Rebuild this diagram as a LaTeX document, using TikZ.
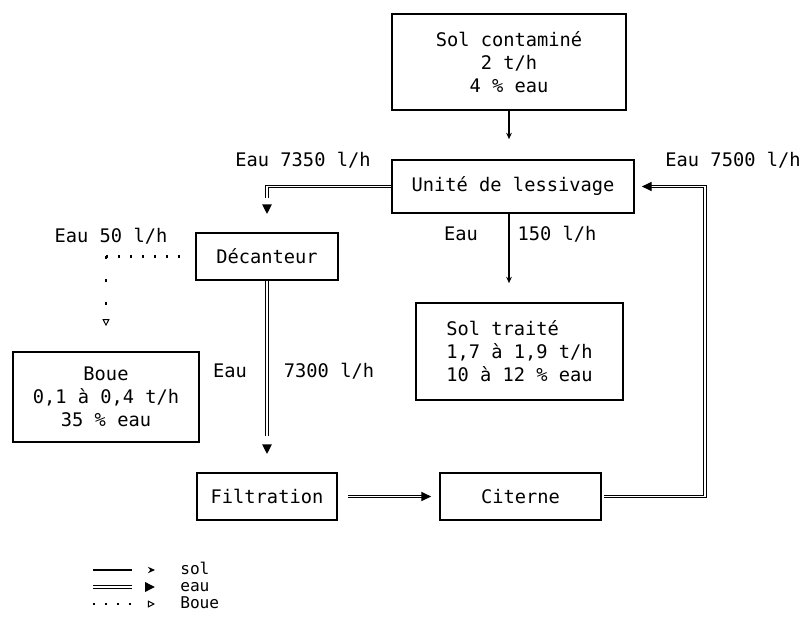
\documentclass[tikz,border=0pt]{standalone}
\usepackage{fontspec}
\setmainfont{DejaVu Sans Mono}
\usetikzlibrary{arrows.meta,decorations.markings}
\begin{document}
\begin{tikzpicture}[x=0.25mm,y=-0.25mm,
  font=\fontsize{13.3}{16.3}\selectfont,
  box/.style={draw,line width=1.2pt,align=center,inner sep=0pt},
  lbl/.style={inner sep=0pt},
  key/.style={inner sep=0pt,anchor=west,font=\fontsize{11.5}{12}\selectfont,text height=1.4ex,text depth=0.2ex},
  tipmark/.style 2 args={decoration={markings,mark=at position #1 with {\arrow{#2}}},postaction=decorate},
  sol/.style={line width=0.8pt,-{Stealth[length=4.5pt,width=4pt]}},
  solgap/.style={sol,-,shorten >=#1,tipmark={1}{Stealth[length=5pt,width=4.5pt]}},
  eau/.style={double,double distance=0.75pt,line width=0.9pt,-{Triangle[length=7pt,width=6.5pt]}},
  eaugap/.style 2 args={eau,-,shorten >=#1,tipmark={#2}{Triangle[length=7pt,width=6.5pt]}},
  boue/.style={line width=1.6pt,dash pattern=on 1.6pt off 6.9pt,
     -{Triangle[open,length=5pt,width=5pt,line width=0.7pt]}},
  bouegap/.style={boue,-,shorten >=#1,tipmark={1}{Triangle[open,length=5pt,width=5pt,line width=0.7pt]}}]
\useasboundingbox (0,0) rectangle (803,625);
\node[box,minimum width=58.5mm,minimum height=24mm] (contam) at (509,62) {Sol contaminé\\2 t/h\\4 \% eau};
\node[box,minimum width=60.5mm,minimum height=13.25mm] (unite) at (513,186.5) {Unité de lessivage};
\node[box,minimum width=35.5mm,minimum height=11.75mm] (decant) at (267,256.5) {Décanteur};
\node[box,minimum width=46.5mm,minimum height=22.5mm] (boue) at (106,397) {Boue\\0,1 à 0,4 t/h\\35 \% eau};
\node[box,minimum width=51.75mm,minimum height=24.25mm,align=left] (traite) at (519.5,351.5) {Sol traité\\1,7 à 1,9 t/h\\10 à 12 \% eau};
\node[box,minimum width=35mm,minimum height=11.75mm] (filtr) at (267,496.5) {Filtration};
\node[box,minimum width=40.25mm,minimum height=11.75mm] (citerne) at (520.5,496.5) {Citerne};
\coordinate (ret) at (705,186.5);
\coordinate (bcorner) at (decant.west -| boue.north);
\node[lbl] (l7350) at (303,160) {Eau 7350 l/h};
\node[lbl] (l7500) at (733,160) {Eau 7500 l/h};
\node[lbl] (l50) at (111,236) {Eau 50 l/h};
\node[lbl] (e150) at (461,234) {Eau};
\node[lbl] (v150) at (557,234) {150 l/h};
\node[lbl] (e7300) at (230,371) {Eau};
\node[lbl] (v7300) at (329,371) {7300 l/h};
\draw[sol,shorten >=5mm] (contam.south) -- (contam.south |- unite.north);
\draw[sol,shorten >=4.75mm] (contam.south |- unite.south) -- (contam.south |- traite.north);
\draw[eaugap={8.5mm}{-4.5mm}] (unite.west) -| (decant.north);
\draw[eaugap={9mm}{-4.5mm}] (decant.south) -- (filtr.north);
\draw[boue,-,shorten >=2.5mm] (bcorner) -- (decant.west);
\draw[boue,dash pattern=on 1.6pt off 14.7pt,shorten >=6.25mm] (bcorner) -- (boue.north);
\draw[eau,shorten <=2.5mm,shorten >=2mm] (filtr.east) -- (citerne.west);
\draw[eau,shorten <=0.5mm,shorten >=1.75mm] (citerne.east) -| (ret) -- (unite.east);
\coordinate (asol) at (93,570); \coordinate (bsol) at (155,570);
\coordinate (aeau) at (93,587); \coordinate (beau) at (155,587);
\coordinate (aboue) at (93,604); \coordinate (bboue) at (155,604);
\draw[solgap=5.75mm] (asol) -- (bsol);
\draw[eaugap={5.75mm}{1}] (aeau) -- (beau);
\draw[bouegap=5.75mm] (aboue) -- (bboue);
\node[key] (ksol) at (180,570) {sol};
\node[key] (keau) at (180,587) {eau};
\node[key] (kboue) at (180,604) {Boue};
\end{tikzpicture}
\end{document}
